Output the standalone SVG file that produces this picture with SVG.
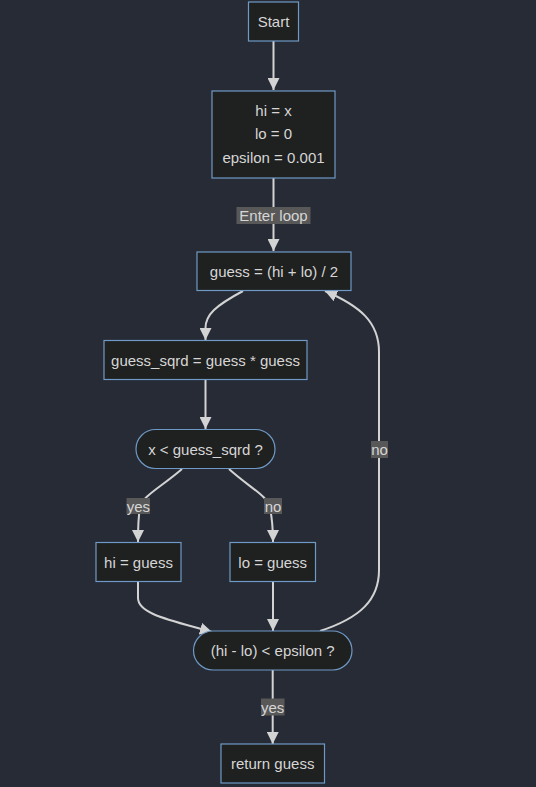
<svg xmlns="http://www.w3.org/2000/svg" width="536" height="787" viewBox="0 0 536 787">
<style>
.node rect{fill:#1f2020;stroke:#6f9ac6;stroke-width:1.2}
.t{font-family:"Liberation Sans",Arial,sans-serif;font-size:15px;fill:#d6d6d6;text-anchor:middle;dominant-baseline:central}
.e{fill:none;stroke:#d3d3d3;stroke-width:2}
.lb{fill:#585858}
</style>
<defs>
<marker id="arr" markerUnits="userSpaceOnUse" markerWidth="12" markerHeight="12" viewBox="0 0 12 12" refX="12" refY="6" orient="auto">
<path d="M0,0 L12,6 L0,12 z" fill="#d3d3d3"/>
</marker>
</defs>
<rect width="536" height="787" fill="#262b36"/>
<g id="edges">
<path class="e" d="M273.5,41 L273.5,90" marker-end="url(#arr)"/>
<path class="e" d="M273.5,178 L273.5,251" marker-end="url(#arr)"/>
<path class="e" d="M243,291 C215,306 205.5,315 205.5,328 L205.5,340" marker-end="url(#arr)"/>
<path class="e" d="M205.5,380 L205.5,429" marker-end="url(#arr)"/>
<path class="e" d="M182,469 C160,488 142,496 140,508 C138,518 138,528 138,542" marker-end="url(#arr)"/>
<path class="e" d="M229,469 C250,488 268,496 270,508 C272,518 273,528 273,542" marker-end="url(#arr)"/>
<path class="e" d="M138,582 L138,598 C138,614 170,620 212,632" marker-end="url(#arr)"/>
<path class="e" d="M273,582 L273,631" marker-end="url(#arr)"/>
<path class="e" d="M320,631 C360,618 379,600 379,570 L379,352 C379,322 360,306 325,291" marker-end="url(#arr)"/>
<path class="e" d="M272.7,670 L272.7,744" marker-end="url(#arr)"/>
<rect class="lb" x="236.5" y="207" width="74" height="17"/>
<text class="t" x="273.5" y="215.5">Enter loop</text>
<rect class="lb" x="126.5" y="498" width="23.5" height="16"/>
<text class="t" x="138.3" y="506">yes</text>
<rect class="lb" x="264" y="498" width="18" height="16"/>
<text class="t" x="273" y="506">no</text>
<rect class="lb" x="371" y="441" width="17" height="17"/>
<text class="t" x="379.5" y="449.5">no</text>
<rect class="lb" x="261" y="698.5" width="23.5" height="17"/>
<text class="t" x="272.7" y="707">yes</text>
</g>
<g id="start" class="node"><rect x="248.5" y="2" width="50" height="39"/><text class="t" x="273.5" y="21.5">Start</text></g>
<g id="init" class="node"><rect x="212" y="91" width="123" height="87"/>
<text class="t" x="273.5" y="110">hi = x</text>
<text class="t" x="273.5" y="133.5">lo = 0</text>
<text class="t" x="273.5" y="157">epsilon = 0.001</text></g>
<g id="guess" class="node"><rect x="197" y="252" width="154" height="38.5"/><text class="t" x="274" y="271">guess = (hi + lo) / 2</text></g>
<g id="sqrd" class="node"><rect x="104" y="340.5" width="203" height="39"/><text class="t" x="205.5" y="360">guess_sqrd = guess * guess</text></g>
<g id="cmp1" class="node"><rect x="136" y="429.5" width="139" height="39" rx="19.5" ry="19.5"/><text class="t" x="205.5" y="449">x &lt; guess_sqrd ?</text></g>
<g id="hi" class="node"><rect x="96" y="542.5" width="85" height="39"/><text class="t" x="138.5" y="562">hi = guess</text></g>
<g id="lo" class="node"><rect x="230" y="542.5" width="85.5" height="39"/><text class="t" x="272.7" y="562">lo = guess</text></g>
<g id="cmp2" class="node"><rect x="193.5" y="631" width="158.5" height="39" rx="19.5" ry="19.5"/><text class="t" x="272.7" y="650.5">(hi - lo) &lt; epsilon ?</text></g>
<g id="ret" class="node"><rect x="221" y="744" width="103.5" height="39"/><text class="t" x="272.7" y="763.5">return guess</text></g>
</svg>
